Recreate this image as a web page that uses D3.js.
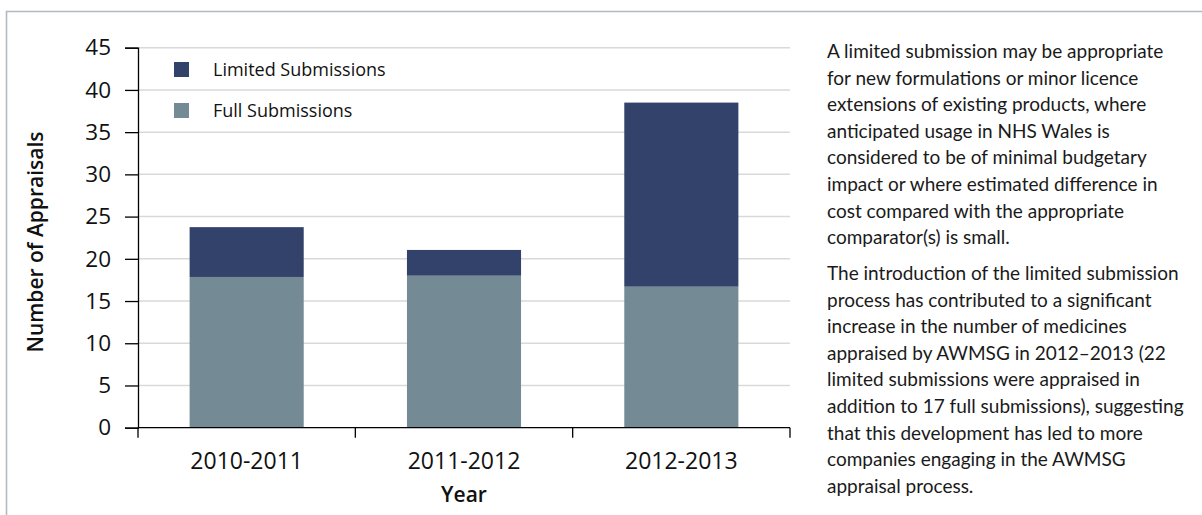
<!DOCTYPE html>
<html>
<head>
<meta charset="utf-8">
<script src="https://cdn.jsdelivr.net/npm/d3@7"></script>
<style>
  body { margin:0; background:#fff; }
  svg { display:block; }
  .note { font-family: Lato, "Noto Sans", sans-serif; font-size:19px; fill:#1a1a1a; }
</style>
</head>
<body>
<svg id="chart" width="1202" height="515"></svg>
<script>
// data
var years = ["2010-2011", "2011-2012", "2012-2013"];
var fullSubs = [17.85, 18.0, 16.7];
var limitedSubs = [5.9, 3.05, 21.8];
var yTicks = [0, 5, 10, 15, 20, 25, 30, 35, 40, 45];
var seriesNames = ["Limited Submissions", "Full Submissions"];
var seriesColors = ["#33426a", "#748a95"];

var para1 = [
  "A limited submission may be appropriate",
  "for new formulations or minor licence",
  "extensions of existing products, where",
  "anticipated usage in NHS Wales is",
  "considered to be of minimal budgetary",
  "impact or where estimated difference in",
  "cost compared with the appropriate",
  "comparator(s) is small."
];
var para2 = [
  "The introduction of the limited submission",
  "process has contributed to a significant",
  "increase in the number of medicines",
  "appraised by AWMSG in 2012\u20132013 (22",
  "limited submissions were appraised in",
  "addition to 17 full submissions), suggesting",
  "that this development has led to more",
  "companies engaging in the AWMSG",
  "appraisal process."
];

var svg = d3.select("#chart");
var axisFont = "'Open Sans', 'Noto Sans', sans-serif";

// frame
svg.append("path")
  .attr("d", "M6.5,515 V11.5 H1202")
  .attr("fill", "none")
  .attr("stroke", "#aebbc5")
  .attr("stroke-width", 1.6);

var x0 = 138, x1 = 790, yTop = 47.7, yBot = 427.7;

var x = d3.scaleBand().domain(years).range([x0, x1]).paddingInner(0).paddingOuter(0);
var y = d3.scaleLinear().domain([0, 45]).range([yBot, yTop]);

// gridlines
svg.append("g").selectAll("line")
  .data(yTicks.filter(function(d){ return d > 0; }))
  .enter().append("line")
  .attr("x1", x0).attr("x2", x1)
  .attr("y1", function(d){ return y(d); })
  .attr("y2", function(d){ return y(d); })
  .attr("stroke", "#d9d9d9")
  .attr("stroke-width", 1.5);

// stacked bars
var stackData = years.map(function(yr, i){
  return { year: yr, full: fullSubs[i], limited: limitedSubs[i] };
});
var stack = d3.stack().keys(["full", "limited"])(stackData);
var colorOf = { full: seriesColors[1], limited: seriesColors[0] };
var barW = x.bandwidth() * 0.525;

svg.append("g").selectAll("g")
  .data(stack).enter().append("g")
  .attr("fill", function(s){ return colorOf[s.key]; })
  .selectAll("rect")
  .data(function(s){ return s; })
  .enter().append("rect")
  .attr("x", function(d){ return x(d.data.year) + (x.bandwidth() - barW) / 2; })
  .attr("width", barW)
  .attr("y", function(d){ return y(d[1]); })
  .attr("height", function(d){ return y(d[0]) - y(d[1]); });

// y axis
var yAxis = svg.append("g")
  .attr("transform", "translate(" + x0 + ",0)")
  .call(d3.axisLeft(y).tickValues(yTicks).tickSize(13).tickPadding(14));
yAxis.select(".domain").attr("stroke", "#000").attr("stroke-width", 1.3);
yAxis.selectAll(".tick line").attr("stroke", "#000").attr("stroke-width", 1.3);
yAxis.selectAll("text")
  .attr("font-family", axisFont).attr("font-size", 22.5).attr("fill", "#111");

// x axis with ticks at category boundaries
var xg = svg.append("g").attr("transform", "translate(0," + yBot + ")");
xg.append("line").attr("x1", x0).attr("x2", x1)
  .attr("stroke", "#000").attr("stroke-width", 1.3);
var bounds = years.map(function(d){ return x(d); }).concat([x1]);
xg.selectAll(".bt").data(bounds).enter().append("line")
  .attr("x1", function(d){ return d; }).attr("x2", function(d){ return d; })
  .attr("y1", 0).attr("y2", 10)
  .attr("stroke", "#000").attr("stroke-width", 1.3);
xg.selectAll(".lbl").data(years).enter().append("text")
  .attr("x", function(d){ return x(d) + x.bandwidth() / 2; })
  .attr("y", 41)
  .attr("text-anchor", "middle")
  .attr("font-family", axisFont).attr("font-size", 23).attr("fill", "#111")
  .text(function(d){ return d; });

// axis titles
svg.append("text")
  .attr("x", 464).attr("y", 502)
  .attr("text-anchor", "middle")
  .attr("font-family", axisFont).attr("font-size", 21).attr("font-weight", 600)
  .attr("fill", "#111")
  .text("Year");
svg.append("text")
  .attr("transform", "translate(43,242) rotate(-90)")
  .attr("text-anchor", "middle")
  .attr("font-family", axisFont).attr("font-size", 21).attr("font-weight", 600)
  .attr("fill", "#111")
  .text("Number of Appraisals");

// legend
var leg = svg.append("g").selectAll("g")
  .data(seriesNames).enter().append("g")
  .attr("transform", function(d, i){ return "translate(174," + (62 + i * 41) + ")"; });
leg.append("rect").attr("width", 15).attr("height", 15)
  .attr("fill", function(d, i){ return seriesColors[i]; });
leg.append("text").attr("x", 39).attr("y", 14)
  .attr("font-family", axisFont).attr("font-size", 18).attr("fill", "#111")
  .text(function(d){ return d; });

// side notes
var lh = 26.6;
var note = svg.append("g").attr("class", "note");
note.selectAll(".p1").data(para1).enter().append("text")
  .attr("x", 827).attr("y", function(d, i){ return 58 + i * lh; })
  .text(function(d){ return d; });
note.selectAll(".p2").data(para2).enter().append("text")
  .attr("x", 827).attr("y", function(d, i){ return 280 + i * lh; })
  .text(function(d){ return d; });
</script>
</body>
</html>
